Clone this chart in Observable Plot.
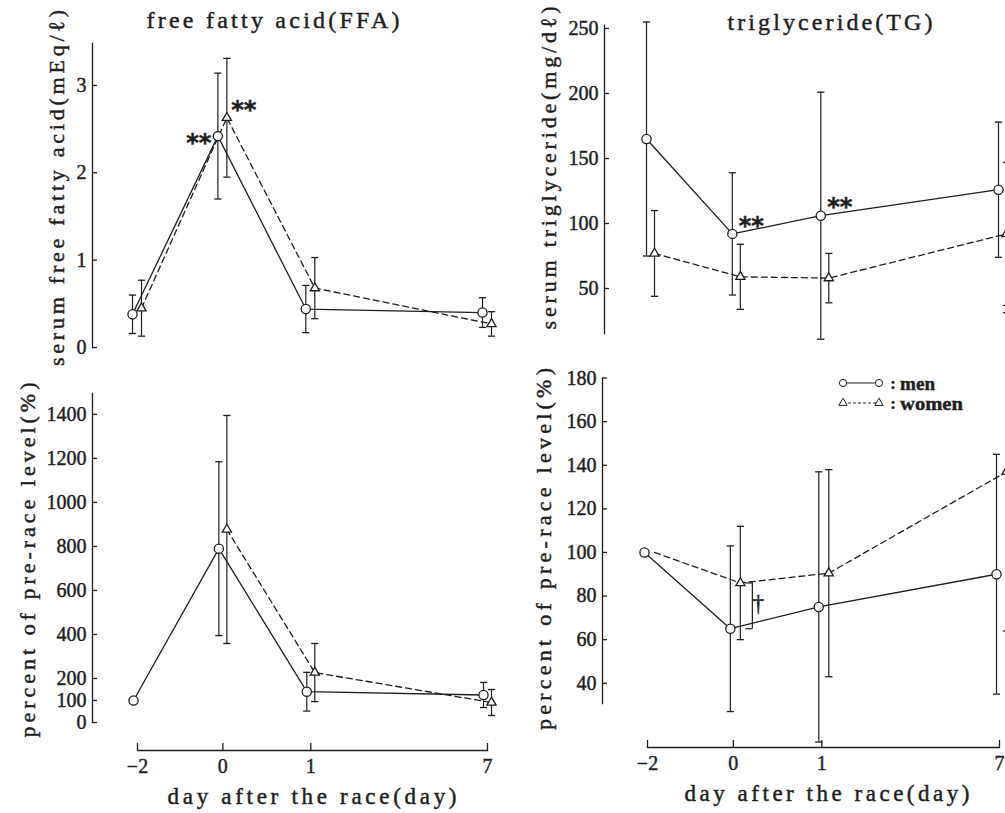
<!DOCTYPE html>
<html>
<head>
<meta charset="utf-8">
<script src="https://cdn.jsdelivr.net/npm/d3@7"></script>
<script src="https://cdn.jsdelivr.net/npm/@observablehq/plot@0.6"></script>
<style>
  html, body { margin: 0; padding: 0; background: #fff; }
  #fig { position: relative; width: 1005px; height: 813px; overflow: hidden; background: #fff; }
  #fig svg { position: absolute; left: 0; top: 0; }
  #fig text { stroke: #1e1e1e; stroke-width: 0.45px; }
</style>
</head>
<body>
<div id="fig"></div>
<script>
// Sampling days relative to the race
const days = [-2, 0, 1, 7];

// Serum free fatty acid (mEq/l), mean and SD
const ffaMen = [0.38, 2.42, 0.44, 0.40];
const ffaMenSD = [0.22, 0.72, 0.27, 0.17];
const ffaWomen = [0.45, 2.63, 0.68, 0.27];
const ffaWomenSD = [0.32, 0.68, 0.35, 0.14];
const ffaMenSig = ["", "**", "", ""];
const ffaWomenSig = ["", "**", "", ""];

// Serum triglyceride (mg/dl), mean and SD
const tgMen = [165, 92, 106, 126];
const tgMenSD = [90, 47, 95, 52];
const tgWomen = [77, 59, 58, 92];
const tgWomenSD = [33, 25, 19, 55];
const tgMenSig = ["", "**", "**", "**"];

// Percent of the pre-race level, mean and SD
const ffaPctMen = [100, 790, 140, 125];
const ffaPctMenSD = [null, 395, 88, 57];
const ffaPctWomen = [null, 877, 227, 91];
const ffaPctWomenSD = [null, 518, 132, 59];

const tgPctMen = [100, 65, 75, 90];
const tgPctMenSD = [null, 38, 62, 55];
const tgPctWomen = [100, 86, 90.5, 137];
const tgPctWomenSD = [null, 26, 47.5, 73];
const tgPctDiff = "†"; // men vs women on race day

// Axis ticks
const dayTicks = [-2, 0, 1, 7];
const ffaTicks = [0, 1, 2, 3];
const tgTicks = [50, 100, 150, 200, 250];
const ffaPctTicks = [0, 100, 200, 400, 600, 800, 1000, 1200, 1400];
const tgPctTicks = [40, 60, 80, 100, 120, 140, 160, 180];

const W = 1005, H = 813;
const ink = "#1e1e1e";
const serif = '"Liberation Serif", "DejaVu Serif", serif';
const fmt = d3.format("d");
const baseStyle = {
  fontFamily: serif, fontSize: "20px", color: ink,
  background: "transparent", overflow: "visible", maxWidth: "none"
};

// The day axis is broken: the week after the race is compressed.
const slot = d3.scaleLinear(days, [0, 1, 2.03, 4.1]);
const slotExtent = [0, 4.1];
const dayLabel = new Map(dayTicks.map(d => [slot(d), fmt(d)]));

function rows(means, sds, sig) {
  return days.map((day, i) => ({
    day,
    pos: slot(day),
    v: means[i],
    sd: sds[i],
    lo: sds[i] == null ? null : means[i] - sds[i],
    hi: sds[i] == null ? null : means[i] + sds[i],
    sig: sig ? sig[i] : ""
  }));
}

// horizontal bar used for the error-bar caps
const cap = {
  draw(ctx, size) {
    const r = Math.sqrt(size / Math.PI);
    ctx.moveTo(-r, 0);
    ctx.lineTo(r, 0);
  }
};

function lineMarks(data, dx, dash) {
  return Plot.line(data, {x: "pos", y: "v", dx, stroke: ink, strokeWidth: 1.3, strokeDasharray: dash});
}
function barMarks(data, dx) {
  const d = data.filter(r => r.sd != null);
  return [
    Plot.ruleX(d, {x: "pos", y1: "lo", y2: "hi", dx, stroke: ink, strokeWidth: 1.2}),
    Plot.dot(d, {x: "pos", y: "lo", dx, symbol: cap, r: 3.6, stroke: ink, strokeWidth: 1.3}),
    Plot.dot(d, {x: "pos", y: "hi", dx, symbol: cap, r: 3.6, stroke: ink, strokeWidth: 1.3})
  ];
}
function pointMarks(data, dx, symbol, filter) {
  const d = filter ? data.filter(filter) : data;
  return Plot.dot(d, {
    x: "pos", y: "v", dx, symbol,
    r: symbol === "circle" ? 4.6 : 3.4,
    fill: "white", stroke: ink, strokeWidth: 1.3
  });
}
function starMarks(data, dx, dy) {
  return Plot.text(data.filter(r => r.sig), {
    x: "pos", y: "v", text: "sig", dx, dy,
    fontFamily: "DejaVu Sans", fontWeight: "bold", fontSize: 24, fill: ink,
    textAnchor: "middle", lineAnchor: "middle"
  });
}

function panel({axisX, top, bottom, yDomain, ticks, xRange, men, women, menDx, womenDx, womenMarkers, extra}) {
  return Plot.plot({
    width: W, height: H,
    marginLeft: axisX, marginRight: 0,
    marginTop: top, marginBottom: H - bottom,
    style: baseStyle,
    x: {domain: slotExtent, range: xRange, axis: null},
    y: {domain: yDomain, range: [bottom, top], axis: null},
    marks: [
      Plot.frame({anchor: "left", stroke: ink, strokeWidth: 1.3}),
      Plot.axisY(ticks, {anchor: "left", tickSize: -5, tickPadding: 11, tickFormat: fmt, label: null, stroke: ink, strokeWidth: 1.3}),
      lineMarks(women, womenDx, "6,4"),
      lineMarks(men, menDx, null),
      ...barMarks(women, womenDx),
      ...barMarks(men, menDx),
      pointMarks(women, womenDx, "triangle", womenMarkers),
      pointMarks(men, menDx, "circle"),
      ...(extra || [])
    ]
  });
}

function dayAxis(xRange, y) {
  return Plot.plot({
    width: W, height: H,
    marginLeft: xRange[0], marginRight: W - xRange[1],
    marginTop: y - 10, marginBottom: H - y,
    style: baseStyle,
    x: {domain: slotExtent, range: xRange},
    y: {domain: [0, 1], axis: null},
    marks: [
      Plot.frame({anchor: "bottom", stroke: ink, strokeWidth: 1.3}),
      Plot.axisX(dayTicks.map(slot), {
        anchor: "bottom", tickSize: -7, tickPadding: 15,
        tickFormat: p => dayLabel.get(p), label: null, stroke: ink, strokeWidth: 1.3
      })
    ]
  });
}

const leftX = [137, 487];
const rightX = [647, 999];

const ffaMenRows = rows(ffaMen, ffaMenSD, ffaMenSig);
const ffaWomenRows = rows(ffaWomen, ffaWomenSD, ffaWomenSig);
const tgMenRows = rows(tgMen, tgMenSD, tgMenSig);
const tgWomenRows = rows(tgWomen, tgWomenSD);
const tgPctMenRows = rows(tgPctMen, tgPctMenSD);
const tgPctWomenRows = rows(tgPctWomen, tgPctWomenSD);

// bracket comparing men and women on race day (percent of TG)
const day0 = [{
  pos: slot(0), a: tgPctWomen[1], b: tgPctMen[1],
  mid: (tgPctWomen[1] + tgPctMen[1]) / 2, t: tgPctDiff
}];
const bracket = [
  Plot.ruleX(day0, {x: "pos", y1: "a", y2: "b", dx: 19, stroke: ink, strokeWidth: 1.2}),
  Plot.dot(day0, {x: "pos", y: "a", dx: 15.5, symbol: cap, r: 3.6, stroke: ink, strokeWidth: 1.2}),
  Plot.dot(day0, {x: "pos", y: "b", dx: 15.5, symbol: cap, r: 3.6, stroke: ink, strokeWidth: 1.2}),
  Plot.text(day0, {x: "pos", y: "mid", text: "t", dx: 25, dy: -2, fontSize: 23, fontFamily: serif, fill: ink, lineAnchor: "middle"})
];

const fig = document.getElementById("fig");

fig.append(panel({
  axisX: 92, top: 43, bottom: 347, yDomain: [0, 3.48], ticks: ffaTicks, xRange: leftX,
  men: ffaMenRows, women: ffaWomenRows, menDx: -5, womenDx: 4,
  extra: [starMarks(ffaMenRows, -24, 7), starMarks(ffaWomenRows, 21, -7)]
}));

fig.append(panel({
  axisX: 604, top: 25, bottom: 333, yDomain: [15.4, 252.3], ticks: tgTicks, xRange: rightX,
  men: tgMenRows, women: tgWomenRows, menDx: -1, womenDx: 7,
  extra: [starMarks(tgMenRows, 18, -8)]
}));

fig.append(panel({
  axisX: 92, top: 393, bottom: 722, yDomain: [0, 1495], ticks: ffaPctTicks, xRange: leftX,
  men: rows(ffaPctMen, ffaPctMenSD), women: rows(ffaPctWomen, ffaPctWomenSD), menDx: -4, womenDx: 4
}));

fig.append(panel({
  axisX: 602, top: 377.6, bottom: 703, yDomain: [30.7, 180], ticks: tgPctTicks, xRange: rightX,
  men: tgPctMenRows, women: tgPctWomenRows, menDx: -3, womenDx: 7,
  womenMarkers: r => r.sd != null,
  extra: bracket
}));

fig.append(dayAxis(leftX, 750));
fig.append(dayAxis(rightX, 747));

// Titles, axis titles and legend
const labels = [
  {text: "free fatty acid(FFA)", x: 273, y: 20, len: 253, size: 24, rot: 0},
  {text: "triglyceride(TG)", x: 830, y: 22, len: 205, size: 24, rot: 0},
  {text: "serum free fatty acid(mEq/ℓ)", x: 56, y: 188, len: 356, size: 22, rot: -90},
  {text: "serum triglyceride(mg/dℓ)", x: 548, y: 168, len: 323, size: 22, rot: -90},
  {text: "percent of pre-race level(%)", x: 27, y: 560, len: 355, size: 22, rot: -90},
  {text: "percent of pre-race level(%)", x: 543, y: 549, len: 362, size: 22, rot: -90},
  {text: "day after the race(day)", x: 312, y: 796, len: 289, size: 23, rot: 0},
  {text: "day after the race(day)", x: 827, y: 793, len: 285, size: 23, rot: 0}
];

const overlay = d3.select(fig).append("svg")
  .attr("width", W).attr("height", H)
  .style("overflow", "visible");

overlay.selectAll("text.lab").data(labels).join("text")
  .attr("class", "lab")
  .attr("transform", d => `translate(${d.x},${d.y}) rotate(${d.rot})`)
  .attr("text-anchor", "middle")
  .attr("dominant-baseline", "central")
  .attr("textLength", d => d.len)
  .attr("lengthAdjust", "spacing")
  .attr("font-family", serif)
  .attr("font-size", d => d.size)
  .attr("fill", ink)
  .text(d => d.text);

// legend
const legend = overlay.append("g").attr("fill", ink).attr("stroke", ink);
const legendRows = [
  {label: "men", y: 383, dash: null, shape: "circle", len: 35},
  {label: "women", y: 403, dash: "3,2", shape: "triangle", len: 63}
];
legendRows.forEach(r => {
  legend.append("line").attr("x1", 843).attr("x2", 879).attr("y1", r.y).attr("y2", r.y)
    .attr("stroke-width", 1).attr("stroke-dasharray", r.dash);
  [843, 879].forEach(cx => {
    if (r.shape === "circle") {
      legend.append("circle").attr("cx", cx).attr("cy", r.y).attr("r", 3.6)
        .attr("fill", "white").attr("stroke-width", 1);
    } else {
      legend.append("path").attr("d", d3.symbol(d3.symbolTriangle, 30)())
        .attr("transform", `translate(${cx},${r.y})`)
        .attr("fill", "white").attr("stroke-width", 1);
    }
  });
  legend.append("text").attr("x", 893).attr("y", r.y)
    .attr("dominant-baseline", "central").attr("font-family", serif)
    .attr("font-size", 17).attr("font-weight", "bold").attr("text-anchor", "middle").text(":");
  legend.append("text").attr("x", 900).attr("y", r.y)
    .attr("dominant-baseline", "central").attr("font-family", serif)
    .attr("font-size", 19).attr("font-weight", "bold")
    .attr("textLength", r.len).attr("lengthAdjust", "spacingAndGlyphs").text(r.label);
});
</script>
</body>
</html>
